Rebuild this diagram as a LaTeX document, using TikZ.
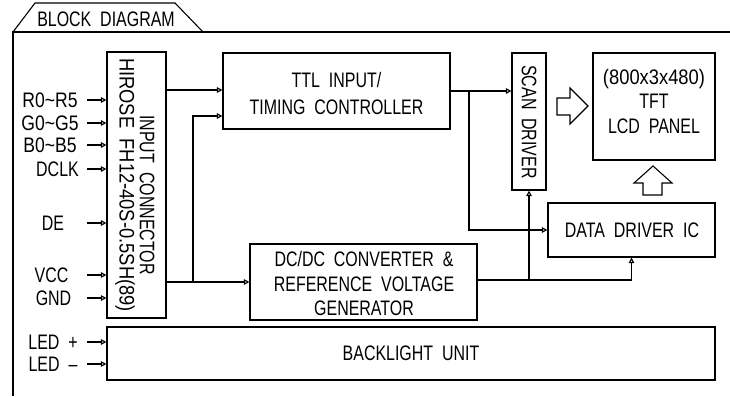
\documentclass[tikz,border=0pt]{standalone}
\usepackage{fontspec}
\usepackage{graphicx}
\setmainfont{Liberation Sans}[FakeStretch=0.76, WordSpace=2]
\usetikzlibrary{arrows.meta}
\begin{document}
\begin{tikzpicture}[x=1pt,y=-1pt, line width=1.1pt,
  every node/.style={font=\fontsize{21}{24.5}\selectfont, inner sep=0pt},
  box/.style={draw, rectangle, inner sep=0pt},
  arr/.style={-{Triangle[open,length=5.5pt,width=5.5pt]}},
  txt/.style={align=center}]
\useasboundingbox (0,0) rectangle (730,396);
% frame with tab
\draw (13,396) -- (13,32) -- (730,32);
\draw (13,32) -- (35,3) -- (175,3) -- (203,32);
\node (title) at (106,19) {BLOCK DIAGRAM};
% boxes
\node[box, minimum width=59pt, minimum height=266pt] (conn) at (136.5,185) {};
\node[box, minimum width=227pt, minimum height=76pt] (ttl) at (336.5,91) {};
\node[box, minimum width=34pt, minimum height=137pt] (scan) at (529,121.5) {};
\node[box, minimum width=122pt, minimum height=107pt] (tft) at (654,106.5) {};
\node[box, minimum width=167pt, minimum height=54pt] (ddrv) at (631.5,230) {};
\node[box, minimum width=227pt, minimum height=76pt] (dcdc) at (363.5,282) {};
\node[box, minimum width=608pt, minimum height=53pt] (blu) at (411,353.5) {};
% box texts
\node[rotate=-90] (hir) at (125,185) {\scalebox{1.15}[1]{HIROSE FH12-40S-0.5SH(89)}};
\node[rotate=-90] (inc) at (147,195) {INPUT CONNECTOR};
\node[txt, font=\fontsize{21}{27}\selectfont] (ttlt) at (336.5,93.5) {TTL INPUT/\\TIMING CONTROLLER};
\node[rotate=-90] (scant) at (529,122) {SCAN DRIVER};
\node[txt] (tftt) at (654,101) {\scalebox{1.15}[1]{(800x3x480)}\\TFT\\LCD PANEL};
\node (ddrvt) at (632,230) {DATA DRIVER IC};
\node[txt] (dcdct) at (364,283.5) {DC/DC CONVERTER \&\\REFERENCE VOLTAGE\\GENERATOR};
\node (blut) at (411,353) {BACKLIGHT UNIT};
% input labels
\node (lR) at (50,100) {\scalebox{1.1}[1]{R0\char"007E R5}};
\node (lG) at (50,123) {\scalebox{1.1}[1]{G0\char"007E G5}};
\node (lB) at (50,145) {\scalebox{1.1}[1]{B0\char"007E B5}};
\node (lCK) at (57.5,169) {DCLK};
\node (lDE) at (53,223) {DE};
\node (lVCC) at (51.5,275) {VCC};
\node (lGND) at (53.5,298) {GND};
\node (lLp) at (53,342) {LED +};
\node (lLm) at (53,364) {LED –};
% input arrow starts
\coordinate (aR) at (87,100);
\coordinate (aG) at (87,123);
\coordinate (aB) at (87,145);
\coordinate (aCK) at (87,169);
\coordinate (aDE) at (87,223);
\coordinate (aVCC) at (87,275);
\coordinate (aGND) at (87,298);
\coordinate (aLp) at (87,342);
\coordinate (aLm) at (87,364);
\foreach \s in {aR,aG,aB,aCK,aDE,aVCC,aGND}
  \draw[arr] (\s) -- (\s -| conn.west);
\draw[arr] (aLp) -- (aLp -| blu.west);
\draw[arr] (aLm) -- (aLm -| blu.west);
% junctions
\coordinate (jA) at (193,282);
\coordinate (jB) at (469,91);
\coordinate (jC) at (529,280);
% connectors
\draw[arr] (conn.east |- 0,90) -- (ttl.west |- 0,90);
\draw[arr] (conn.east |- jA) -- (dcdc.west |- jA);
\draw[arr] (jA) |- (ttl.west |- 0,116);
\draw[arr] (ttl.east |- jB) -- (scan.west |- jB);
\draw[arr] (jB) |- (ddrv.west);
\draw[arr] (dcdc.east |- jC) -| (ddrv.south);
\draw[arr] (jC) -- (scan.south);
% hollow block arrows
\draw (557,98) -- (570,98) -- (570,88) -- (588,106) -- (570,124) -- (570,115) -- (557,115) -- cycle;
\draw (643,195) -- (643,183) -- (634,183) -- (653,166) -- (672,183) -- (662,183) -- (662,195) -- cycle;
\end{tikzpicture}
\end{document}
